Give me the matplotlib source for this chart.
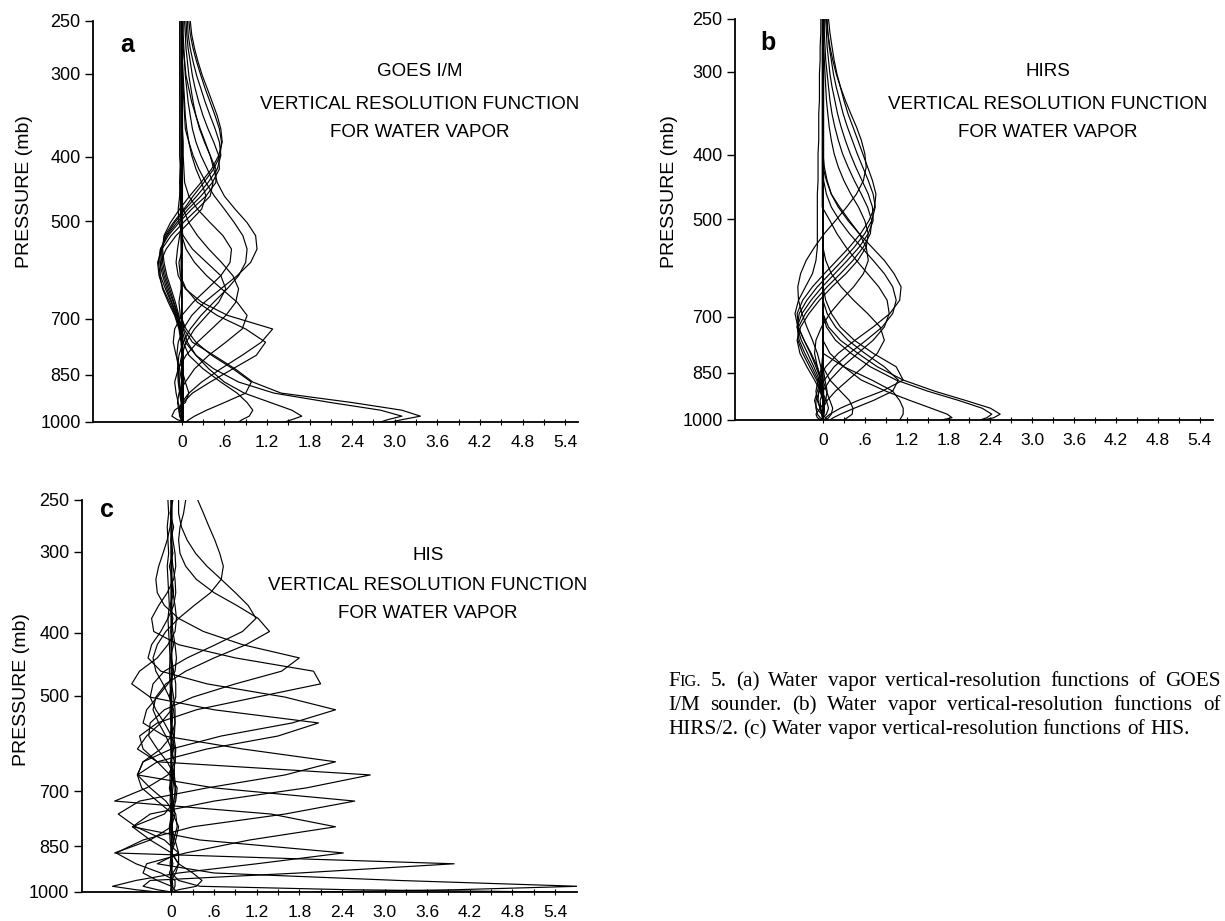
import matplotlib
matplotlib.use("Agg")
import matplotlib.pyplot as plt
from matplotlib.ticker import NullLocator

plt.rcParams['font.family'] = ['Liberation Sans', 'DejaVu Sans']

W, H = 1225, 921

# ---------------- data ----------------
pressure_levels = [250, 262, 275, 288, 302, 316, 331, 347, 363, 380, 398, 417, 437, 458, 479,
                   502, 525, 550, 576, 603, 631, 661, 692, 725, 759, 794, 832, 871, 905, 935,
                   960, 980, 992, 1000]
pressure_ticks = [250, 300, 400, 500, 700, 850, 1000]
x_tick_values = [0, 0.6, 1.2, 1.8, 2.4, 3.0, 3.6, 4.2, 4.8, 5.4]
x_tick_labels = ["0", ".6", "1.2", "1.8", "2.4", "3.0", "3.6", "4.2", "4.8", "5.4"]
x_minor_ticks = [0.3, 0.9, 1.5, 2.1, 2.7, 3.3, 3.9, 4.5, 5.1]

# (a) GOES I/M water vapour resolution functions
goes_curves = [
    [0.10, 0.12, 0.16, 0.21, 0.27, 0.33, 0.40, 0.47, 0.53, 0.56, 0.54, 0.45, 0.31, 0.16, 0.03, -0.12, -0.24, -0.28, -0.27, -0.23, -0.17, -0.11, -0.05, -0.01, 0.01, 0.02, 0.02, 0.02, 0.02, 0.02, 0.02, 0.02, 0.02, 0.02],
    [0.08, 0.09, 0.12, 0.16, 0.21, 0.27, 0.33, 0.40, 0.47, 0.53, 0.55, 0.50, 0.37, 0.21, 0.05, -0.10, -0.22, -0.29, -0.29, -0.25, -0.19, -0.12, -0.06, -0.02, 0.00, 0.01, 0.01, 0.02, 0.02, 0.02, 0.02, 0.02, 0.02, 0.02],
    [0.06, 0.07, 0.09, 0.12, 0.15, 0.19, 0.24, 0.30, 0.37, 0.45, 0.52, 0.53, 0.43, 0.27, 0.09, -0.07, -0.21, -0.30, -0.31, -0.27, -0.21, -0.14, -0.07, -0.02, 0.00, 0.01, 0.01, 0.01, 0.02, 0.02, 0.02, 0.02, 0.01, 0.01],
    [0.04, 0.05, 0.06, 0.08, 0.10, 0.13, 0.16, 0.20, 0.25, 0.32, 0.40, 0.48, 0.48, 0.34, 0.14, -0.04, -0.19, -0.30, -0.33, -0.30, -0.23, -0.15, -0.08, -0.03, 0.00, 0.01, 0.01, 0.01, 0.01, 0.01, 0.01, 0.01, 0.01, 0.01],
    [0.02, 0.02, 0.03, 0.04, 0.05, 0.07, 0.09, 0.12, 0.15, 0.20, 0.27, 0.36, 0.44, 0.40, 0.22, 0.02, -0.15, -0.28, -0.34, -0.32, -0.26, -0.17, -0.09, -0.03, 0.00, 0.01, 0.01, 0.01, 0.01, 0.01, 0.00, 0.00, 0.00, 0.00],
    [0.00, 0.00, 0.01, 0.01, 0.02, 0.03, 0.04, 0.05, 0.07, 0.10, 0.14, 0.20, 0.28, 0.34, 0.28, 0.10, -0.08, -0.22, -0.30, -0.31, -0.27, -0.19, -0.10, -0.04, -0.01, 0.00, 0.00, 0.00, 0.00, 0.00, 0.00, 0.00, 0.00, 0.00],
    [0.12, 0.14, 0.18, 0.23, 0.29, 0.36, 0.43, 0.50, 0.55, 0.57, 0.52, 0.42, 0.27, 0.11, -0.03, -0.16, -0.25, -0.27, -0.25, -0.21, -0.15, -0.09, -0.04, 0.00, 0.01, 0.02, 0.02, 0.02, 0.02, 0.02, 0.02, 0.02, 0.02, 0.02],
    [-0.03, -0.03, -0.03, -0.03, -0.03, -0.03, -0.03, -0.03, -0.03, -0.03, -0.03, -0.02, -0.02, -0.02, -0.02, -0.01, -0.01, 0.00, 0.00, 0.00, 0.00, 0.00, 0.00, 0.00, 0.00, 0.00, 0.00, 0.00, 0.00, 0.00, 0.00, 0.00, 0.00, 0.00],
    [0.00, 0.01, 0.02, 0.04, 0.06, 0.10, 0.14, 0.20, 0.26, 0.33, 0.40, 0.45, 0.50, 0.60, 0.75, 0.92, 1.04, 1.06, 0.97, 0.78, 0.55, 0.32, 0.14, 0.02, -0.05, -0.07, -0.05, -0.03, -0.01, 0.00, 0.00, 0.00, 0.00, 0.00],
    [0.00, 0.00, 0.00, 0.01, 0.01, 0.02, 0.03, 0.04, 0.05, 0.10, 0.16, 0.24, 0.34, 0.46, 0.60, 0.74, 0.86, 0.92, 0.90, 0.80, 0.64, 0.45, 0.27, 0.12, 0.02, -0.04, -0.06, -0.05, -0.03, -0.01, 0.00, 0.00, 0.00, 0.00],
    [0.00, 0.00, 0.00, 0.00, 0.00, 0.00, 0.00, 0.00, 0.00, 0.00, 0.00, -0.02, -0.03, -0.02, 0.02, 0.10, 0.22, 0.38, 0.56, 0.72, 0.80, 0.76, 0.62, 0.42, 0.22, 0.06, -0.05, -0.10, -0.08, -0.05, -0.02, 0.00, 0.00, 0.00],
    [0.01, 0.01, 0.01, 0.01, 0.01, 0.01, 0.01, 0.01, 0.01, 0.02, 0.02, 0.03, 0.04, 0.10, 0.22, 0.40, 0.58, 0.70, 0.68, 0.55, 0.36, 0.16, 0.00, -0.10, -0.12, -0.08, -0.03, 0.00, 0.00, 0.00, 0.00, 0.00, 0.00, 0.00],
    [-0.01, -0.01, -0.01, -0.01, -0.01, -0.01, -0.01, -0.01, -0.01, -0.01, -0.01, -0.02, -0.02, -0.03, -0.05, -0.04, 0.02, 0.15, 0.35, 0.55, 0.62, 0.52, 0.35, 0.18, 0.06, 0.00, -0.04, -0.04, -0.02, 0.00, 0.00, 0.00, 0.00, 0.00],
    [0.00, 0.00, 0.00, 0.00, 0.00, 0.00, 0.00, 0.00, 0.00, 0.00, 0.00, 0.00, 0.00, 0.00, 0.00, 0.00, -0.03, -0.06, -0.08, -0.05, 0.05, 0.28, 0.65, 1.28, 1.12, 0.85, 0.55, 0.28, 0.10, 0.00, -0.04, -0.03, -0.01, 0.00],
    [0.01, 0.01, 0.01, 0.01, 0.01, 0.01, 0.01, 0.01, 0.01, 0.01, 0.01, 0.01, 0.01, 0.01, 0.01, 0.01, 0.01, 0.01, -0.04, -0.02, 0.06, 0.22, 0.50, 0.90, 1.18, 1.05, 0.72, 0.40, 0.15, 0.02, -0.03, -0.02, 0.00, 0.00],
    [0.00, 0.00, 0.00, 0.00, 0.00, 0.00, 0.00, 0.00, 0.00, 0.00, 0.00, 0.00, 0.00, 0.00, 0.00, 0.00, 0.00, 0.06, 0.18, 0.35, 0.56, 0.78, 0.92, 0.85, 0.62, 0.38, 0.18, 0.05, -0.04, -0.06, -0.04, -0.02, 0.00, 0.00],
    [-0.01, -0.01, -0.01, -0.01, -0.01, -0.01, -0.01, -0.01, -0.01, -0.01, -0.01, -0.01, -0.01, -0.01, -0.01, -0.01, -0.01, -0.01, -0.01, -0.01, -0.01, -0.04, -0.02, 0.06, 0.20, 0.42, 0.72, 0.98, 0.90, 0.60, 0.35, 0.18, 0.10, 0.06],
    [0.00, 0.00, 0.00, 0.00, 0.00, 0.00, 0.00, 0.00, 0.00, 0.00, 0.00, 0.00, 0.00, 0.00, 0.00, 0.00, 0.00, 0.00, 0.00, 0.00, 0.00, 0.00, 0.00, 0.03, 0.15, 0.45, 0.75, 1.00, 1.40, 2.40, 3.10, 3.36, 3.10, 2.95],
    [0.00, 0.00, 0.00, 0.00, 0.00, 0.00, 0.00, 0.00, 0.00, 0.00, 0.00, 0.00, 0.00, 0.00, 0.00, 0.00, 0.00, 0.00, 0.00, 0.00, 0.00, 0.00, 0.00, 0.00, 0.05, 0.20, 0.45, 0.80, 1.30, 2.10, 2.80, 3.10, 2.90, 2.80],
    [0.00, 0.00, 0.00, 0.00, 0.00, 0.00, 0.00, 0.00, 0.00, 0.00, 0.00, 0.00, 0.00, 0.00, 0.00, 0.00, 0.00, 0.00, 0.00, 0.00, 0.00, 0.00, 0.00, 0.02, 0.08, 0.20, 0.38, 0.60, 0.88, 1.25, 1.55, 1.69, 1.55, 1.45],
    [0.00, 0.00, 0.00, 0.00, 0.00, 0.00, 0.00, 0.00, 0.00, 0.00, 0.00, 0.00, 0.00, 0.00, 0.00, 0.00, 0.00, 0.00, 0.00, 0.00, 0.00, 0.00, 0.00, 0.00, 0.02, 0.10, 0.30, 0.55, 0.78, 0.92, 1.00, 0.95, 0.85, 0.80],
    [0.00, 0.00, 0.00, 0.00, 0.00, 0.00, 0.00, 0.00, 0.00, 0.00, 0.00, 0.00, 0.00, 0.00, 0.00, 0.00, 0.00, 0.00, 0.00, 0.00, 0.00, 0.00, 0.00, 0.00, 0.00, 0.00, 0.00, 0.05, 0.10, 0.05, -0.10, -0.14, -0.06, 0.05],
]

# (b) HIRS/2 water vapour resolution functions
hirs_curves = [
    [0.08, 0.10, 0.13, 0.16, 0.20, 0.25, 0.30, 0.36, 0.43, 0.50, 0.57, 0.64, 0.71, 0.76, 0.74, 0.66, 0.54, 0.38, 0.20, 0.02, -0.15, -0.29, -0.37, -0.35, -0.27, -0.18, -0.10, -0.03, 0.00, 0.02, 0.02, 0.01, 0.00, 0.00],
    [0.06, 0.07, 0.09, 0.12, 0.15, 0.19, 0.24, 0.29, 0.35, 0.42, 0.49, 0.57, 0.65, 0.72, 0.75, 0.70, 0.60, 0.45, 0.28, 0.10, -0.08, -0.23, -0.34, -0.37, -0.31, -0.22, -0.13, -0.05, -0.01, 0.01, 0.02, 0.01, 0.00, 0.00],
    [0.04, 0.05, 0.06, 0.08, 0.10, 0.13, 0.17, 0.21, 0.26, 0.32, 0.39, 0.47, 0.56, 0.65, 0.71, 0.72, 0.65, 0.52, 0.35, 0.17, -0.01, -0.17, -0.30, -0.37, -0.34, -0.26, -0.16, -0.07, -0.02, 0.01, 0.02, 0.01, 0.00, 0.00],
    [0.02, 0.02, 0.03, 0.04, 0.06, 0.08, 0.10, 0.13, 0.17, 0.22, 0.28, 0.36, 0.45, 0.55, 0.64, 0.70, 0.68, 0.58, 0.43, 0.25, 0.06, -0.11, -0.25, -0.35, -0.36, -0.29, -0.19, -0.09, -0.03, 0.00, 0.01, 0.01, 0.00, 0.00],
    [0.00, 0.01, 0.01, 0.02, 0.03, 0.04, 0.05, 0.07, 0.09, 0.12, 0.16, 0.22, 0.30, 0.40, 0.51, 0.60, 0.65, 0.62, 0.50, 0.33, 0.13, -0.05, -0.20, -0.32, -0.37, -0.33, -0.23, -0.12, -0.04, 0.00, 0.01, 0.01, 0.00, 0.00],
    [-0.03, -0.03, -0.04, -0.04, -0.05, -0.05, -0.05, -0.06, -0.06, -0.06, -0.07, -0.07, -0.07, -0.08, -0.08, -0.08, -0.08, -0.08, -0.10, -0.15, -0.25, -0.35, -0.40, -0.36, -0.27, -0.17, -0.08, -0.02, 0.00, 0.00, 0.00, 0.00, 0.00, 0.00],
    [0.05, 0.07, 0.10, 0.14, 0.19, 0.25, 0.32, 0.40, 0.48, 0.55, 0.60, 0.62, 0.58, 0.48, 0.34, 0.18, 0.02, -0.12, -0.24, -0.32, -0.36, -0.35, -0.30, -0.23, -0.15, -0.08, -0.03, 0.00, 0.01, 0.01, 0.01, 0.00, 0.00, 0.00],
    [0.00, 0.00, 0.00, 0.00, 0.00, 0.00, 0.00, 0.00, 0.00, 0.00, 0.00, 0.02, 0.06, 0.12, 0.22, 0.36, 0.52, 0.70, 0.88, 1.02, 1.12, 1.10, 0.96, 0.72, 0.46, 0.22, 0.04, -0.07, -0.10, -0.08, -0.04, -0.01, 0.00, 0.00],
    [0.01, 0.01, 0.01, 0.01, 0.01, 0.01, 0.01, 0.01, 0.01, 0.01, 0.01, 0.01, 0.01, 0.05, 0.12, 0.24, 0.38, 0.55, 0.72, 0.88, 1.00, 1.05, 1.00, 0.85, 0.62, 0.38, 0.16, 0.02, -0.06, -0.07, -0.04, -0.02, 0.00, 0.00],
    [-0.01, -0.01, -0.01, -0.01, -0.01, -0.01, -0.01, -0.01, -0.01, -0.01, -0.01, -0.01, -0.01, -0.01, -0.01, 0.10, 0.20, 0.33, 0.48, 0.64, 0.80, 0.92, 0.95, 0.88, 0.72, 0.50, 0.28, 0.10, 0.00, -0.04, -0.03, -0.01, 0.00, 0.00],
    [0.00, 0.00, 0.00, 0.00, 0.00, 0.00, 0.00, 0.00, 0.00, 0.00, 0.00, 0.00, 0.05, 0.12, 0.24, 0.38, 0.52, 0.62, 0.65, 0.58, 0.44, 0.26, 0.10, -0.02, -0.10, -0.12, -0.08, -0.03, 0.00, 0.00, 0.00, 0.00, 0.00, 0.00],
    [0.00, 0.00, 0.00, 0.00, 0.00, 0.00, 0.00, 0.00, 0.00, 0.00, 0.00, 0.00, 0.00, 0.00, 0.00, 0.00, 0.00, 0.00, 0.04, 0.12, 0.26, 0.44, 0.64, 0.82, 0.88, 0.78, 0.58, 0.36, 0.18, 0.06, 0.00, -0.02, -0.01, 0.00],
    [0.00, 0.00, 0.00, 0.00, 0.00, 0.00, 0.00, 0.00, 0.00, 0.00, 0.00, 0.00, 0.00, 0.00, 0.00, 0.00, 0.00, 0.00, 0.00, 0.00, 0.00, 0.04, 0.12, 0.25, 0.45, 0.72, 1.05, 1.15, 0.85, 0.50, 0.25, 0.10, 0.04, 0.02],
    [0.00, 0.00, 0.00, 0.00, 0.00, 0.00, 0.00, 0.00, 0.00, 0.00, 0.00, 0.00, 0.00, 0.00, 0.00, 0.00, 0.00, 0.00, 0.00, 0.00, 0.00, 0.00, 0.06, 0.18, 0.36, 0.60, 0.88, 1.08, 1.00, 0.72, 0.45, 0.25, 0.15, 0.10],
    [0.00, 0.00, 0.00, 0.00, 0.00, 0.00, 0.00, 0.00, 0.00, 0.00, 0.00, 0.00, 0.00, 0.00, 0.00, 0.00, 0.00, 0.00, 0.00, 0.00, 0.00, 0.00, 0.00, 0.08, 0.25, 0.50, 0.78, 1.15, 1.60, 2.05, 2.40, 2.54, 2.45, 2.30],
    [0.00, 0.00, 0.00, 0.00, 0.00, 0.00, 0.00, 0.00, 0.00, 0.00, 0.00, 0.00, 0.00, 0.00, 0.00, 0.00, 0.00, 0.00, 0.00, 0.00, 0.00, 0.00, 0.00, 0.05, 0.18, 0.40, 0.68, 1.05, 1.50, 1.95, 2.28, 2.42, 2.35, 2.25],
    [0.00, 0.00, 0.00, 0.00, 0.00, 0.00, 0.00, 0.00, 0.00, 0.00, 0.00, 0.00, 0.00, 0.00, 0.00, 0.00, 0.00, 0.00, 0.00, 0.00, 0.00, 0.00, 0.00, 0.00, 0.00, 0.10, 0.30, 0.55, 0.90, 1.25, 1.55, 1.78, 1.85, 1.70],
    [0.00, 0.00, 0.00, 0.00, 0.00, 0.00, 0.00, 0.00, 0.00, 0.00, 0.00, 0.00, 0.00, 0.00, 0.00, 0.00, 0.00, 0.00, 0.00, 0.00, 0.00, 0.00, 0.00, 0.00, 0.00, 0.00, 0.30, 0.70, 1.00, 1.10, 1.15, 1.15, 1.12, 1.10],
    [0.00, 0.00, 0.00, 0.00, 0.00, 0.00, 0.00, 0.00, 0.00, 0.00, 0.00, 0.00, 0.00, 0.00, 0.00, 0.00, 0.00, 0.00, 0.00, 0.00, 0.00, 0.00, 0.00, 0.00, 0.00, 0.00, 0.00, 0.10, 0.25, 0.38, 0.43, 0.42, 0.35, 0.30],
    [0.00, 0.00, 0.00, 0.00, 0.00, 0.00, 0.00, 0.00, 0.00, 0.00, 0.00, 0.00, 0.00, 0.00, 0.00, 0.00, 0.00, 0.00, 0.00, 0.00, 0.00, 0.00, 0.00, 0.00, 0.00, 0.00, 0.00, 0.00, 0.05, 0.10, 0.14, 0.12, 0.08, 0.05],
    [0.00, 0.00, 0.00, 0.00, 0.00, 0.00, 0.00, 0.00, 0.00, 0.00, 0.00, 0.00, 0.00, 0.00, 0.00, 0.00, 0.00, 0.00, 0.00, 0.00, 0.00, 0.00, 0.00, 0.00, 0.00, 0.00, 0.00, 0.00, -0.05, -0.10, -0.10, -0.08, -0.04, 0.00],
    [0.00, 0.00, 0.00, 0.00, 0.00, 0.00, 0.00, 0.00, 0.00, 0.00, 0.00, 0.00, 0.00, 0.00, 0.00, 0.00, 0.00, 0.00, 0.00, 0.00, 0.00, 0.00, 0.00, 0.00, 0.00, 0.00, 0.00, -0.03, -0.08, -0.12, -0.09, -0.02, 0.04, 0.06],
    [0.00, 0.00, 0.00, 0.00, 0.00, 0.00, 0.00, 0.00, 0.00, 0.00, 0.00, 0.00, 0.00, 0.00, 0.00, 0.00, 0.00, 0.00, 0.00, 0.00, 0.00, 0.00, 0.00, 0.00, 0.00, 0.00, 0.00, 0.03, 0.06, 0.04, -0.04, -0.10, -0.08, -0.03],
    [0.00, 0.00, 0.00, 0.00, 0.00, 0.00, 0.00, 0.00, 0.00, 0.00, 0.00, 0.00, 0.00, 0.00, 0.00, 0.00, 0.00, 0.00, 0.00, 0.00, 0.00, 0.00, 0.00, 0.00, 0.00, 0.00, -0.02, -0.06, -0.02, 0.05, 0.08, 0.05, 0.00, -0.04],
]

# (c) HIS water vapour resolution functions
his_curves = [
    [0.37, 0.45, 0.53, 0.61, 0.68, 0.73, 0.70, 0.55, 0.32, 0.10, -0.08, -0.20, -0.26, -0.22, -0.12, -0.03, 0.03, 0.05, 0.04, 0.02, 0.00, -0.02, -0.02, 0.00, 0.01, 0.01, 0.00, 0.00, 0.00, 0.00, 0.00, 0.00, 0.00, 0.00],
    [0.20, 0.17, 0.12, 0.10, 0.12, 0.20, 0.35, 0.60, 0.92, 1.22, 1.38, 1.05, 0.60, 0.20, -0.08, -0.22, -0.26, -0.18, -0.08, 0.00, 0.04, 0.04, 0.02, 0.00, -0.01, 0.00, 0.00, 0.00, 0.00, 0.00, 0.00, 0.00, 0.00, 0.00],
    [0.10, 0.10, 0.14, 0.22, 0.34, 0.50, 0.70, 0.90, 1.08, 1.19, 1.00, 0.62, 0.22, -0.10, -0.26, -0.30, -0.22, -0.10, 0.00, 0.05, 0.05, 0.02, -0.01, -0.02, 0.00, 0.00, 0.00, 0.00, 0.00, 0.00, 0.00, 0.00, 0.00, 0.00],
    [0.00, 0.00, -0.02, -0.06, -0.12, -0.18, -0.22, -0.20, -0.10, 0.10, 0.45, 1.00, 1.80, 1.55, 0.90, 0.30, -0.10, -0.30, -0.32, -0.20, -0.06, 0.04, 0.06, 0.03, 0.00, -0.01, 0.00, 0.00, 0.00, 0.00, 0.00, 0.00, 0.00, 0.00],
    [0.00, 0.00, 0.00, 0.02, 0.05, 0.06, 0.03, -0.06, -0.18, -0.28, -0.25, 0.10, 0.90, 2.00, 2.10, 1.20, 0.35, -0.20, -0.45, -0.40, -0.20, -0.02, 0.08, 0.06, 0.00, -0.03, -0.02, 0.00, 0.00, 0.00, 0.00, 0.00, 0.00, 0.00],
    [0.00, 0.00, 0.00, 0.00, 0.00, 0.02, 0.05, 0.06, 0.03, -0.05, -0.15, -0.28, -0.33, -0.15, 0.50, 1.60, 2.31, 1.70, 0.70, 0.00, -0.40, -0.48, -0.30, -0.08, 0.06, 0.08, 0.03, 0.00, 0.00, 0.00, 0.00, 0.00, 0.00, 0.00],
    [0.00, 0.00, 0.00, 0.00, 0.00, 0.00, 0.00, 0.02, 0.05, 0.07, 0.05, -0.05, -0.20, -0.45, -0.56, -0.30, 0.60, 2.07, 1.50, 0.50, -0.20, -0.48, -0.42, -0.20, 0.02, 0.10, 0.06, 0.00, -0.02, 0.00, 0.00, 0.00, 0.00, 0.00],
    [0.00, 0.00, 0.00, 0.00, 0.00, 0.00, 0.00, 0.00, 0.00, 0.00, 0.02, 0.05, 0.07, 0.05, -0.05, -0.20, -0.35, -0.40, -0.10, 1.00, 2.31, 1.60, 0.50, -0.45, -0.75, -0.50, -0.10, 0.10, 0.10, 0.02, -0.02, 0.00, 0.00, 0.00],
    [0.00, 0.00, 0.00, 0.00, 0.00, 0.00, 0.00, 0.00, 0.00, 0.00, 0.00, 0.00, 0.00, 0.03, 0.06, 0.06, 0.00, -0.15, -0.35, -0.48, -0.20, 2.80, 1.90, 0.60, -0.30, -0.55, -0.30, 0.00, 0.10, 0.06, 0.00, 0.00, 0.00, 0.00],
    [0.00, 0.00, 0.00, 0.00, 0.00, 0.00, 0.00, 0.00, 0.00, 0.00, 0.00, 0.00, 0.00, 0.00, 0.00, 0.03, 0.05, 0.05, 0.00, -0.15, -0.40, -0.48, 0.60, 2.58, 1.60, 0.30, -0.40, -0.78, -0.50, -0.15, 0.05, 0.05, 0.02, 0.00],
    [0.00, 0.00, 0.00, 0.00, 0.00, 0.00, 0.00, 0.00, 0.00, 0.00, 0.00, 0.00, 0.00, 0.00, 0.00, 0.00, 0.00, 0.00, 0.03, 0.06, 0.05, -0.05, -0.35, -0.80, 1.40, 2.31, 1.10, 0.20, -0.35, -0.40, -0.20, 0.00, 0.05, 0.05],
    [0.00, 0.00, 0.00, 0.00, 0.00, 0.00, 0.00, 0.00, 0.00, 0.00, 0.00, 0.00, 0.00, 0.00, 0.00, 0.00, 0.00, 0.00, 0.00, 0.00, 0.00, 0.02, 0.05, 0.05, -0.10, -0.55, 0.40, 2.42, 1.20, 0.10, -0.50, -0.83, -0.50, -0.20],
    [0.00, 0.00, 0.00, 0.00, 0.00, 0.00, 0.00, 0.00, 0.00, 0.00, 0.00, 0.00, 0.00, 0.00, 0.00, 0.00, 0.00, 0.00, 0.00, 0.00, 0.00, 0.00, 0.00, 0.02, 0.05, 0.00, -0.30, -0.80, 3.98, 1.80, -0.30, -0.40, -0.20, 0.00],
    [0.00, 0.00, 0.00, 0.00, 0.00, 0.00, 0.00, 0.00, 0.00, 0.00, 0.00, 0.00, 0.00, 0.00, 0.00, 0.00, 0.00, 0.00, 0.00, 0.00, 0.00, 0.00, 0.00, 0.00, 0.00, 0.00, 0.05, 0.10, -0.20, 0.60, 3.20, 5.73, 4.00, 2.00],
    [0.00, 0.00, 0.00, 0.00, 0.00, 0.00, 0.00, 0.00, 0.00, 0.00, 0.00, 0.00, 0.00, 0.00, 0.00, 0.00, 0.00, 0.00, 0.00, 0.00, 0.00, 0.00, 0.00, 0.00, 0.00, 0.00, 0.00, 0.00, 0.00, 0.00, 0.10, 0.40, 2.50, 5.40],
    [0.00, 0.00, 0.00, 0.00, 0.00, 0.00, 0.00, 0.00, 0.00, 0.00, 0.00, 0.00, 0.00, 0.00, 0.00, 0.00, 0.00, 0.00, 0.00, 0.00, 0.00, 0.00, 0.00, 0.00, 0.00, 0.00, 0.00, 0.00, 0.10, 0.30, 0.43, 0.35, 0.10, 0.00],
    [0.02, -0.02, 0.03, -0.01, 0.02, -0.03, 0.01, 0.03, -0.02, 0.02, -0.01, 0.03, -0.02, 0.02, 0.00, -0.03, 0.02, 0.01, -0.02, 0.03, -0.01, 0.02, -0.03, 0.01, 0.02, -0.02, 0.03, -0.01, 0.02, -0.03, 0.01, 0.02, -0.01, 0.00],
    [-0.05, -0.04, -0.06, -0.05, -0.04, -0.06, -0.05, -0.04, -0.03, -0.05, -0.04, -0.03, -0.02, -0.03, -0.02, -0.01, -0.02, -0.01, 0.00, -0.01, 0.00, 0.01, 0.00, 0.01, 0.00, 0.01, 0.02, 0.01, 0.00, 0.01, 0.00, 0.00, 0.00, 0.00],
]

panel_letters = ["a", "b", "c"]
panel_titles = [["GOES I/M", "VERTICAL RESOLUTION FUNCTION", "FOR WATER VAPOR"],
                ["HIRS", "VERTICAL RESOLUTION FUNCTION", "FOR WATER VAPOR"],
                ["HIS", "VERTICAL RESOLUTION FUNCTION", "FOR WATER VAPOR"]]
y_axis_label = "PRESSURE (mb)"
caption_lines = [
    "FIG. 5. (a) Water vapor vertical-resolution functions of GOES",
    "I/M sounder. (b) Water vapor vertical-resolution functions of",
    "HIRS/2. (c) Water vapor vertical-resolution functions of HIS.",
]
caption_justified = [True, True, False]

# ---------------- layout (pixels) ----------------
fig = plt.figure(figsize=(W / 100, H / 100), dpi=100)
fig.patch.set_facecolor("white")


def rect(l, r, t, b):
    return [l / W, 1 - b / H, (r - l) / W, (b - t) / H]


def fx(x):
    return x / W


def fy(y):
    return 1 - y / H


panels = [
    dict(curves=goes_curves, box=(93, 578, 21, 422), xlim=(-1.25, 5.58),
         letter=(127, 45), title_x=420, title_y=(72, 104, 132), ylab=(25, 192)),
    dict(curves=hirs_curves, box=(735, 1213, 19, 420), xlim=(-1.26, 5.59),
         letter=(768, 43), title_x=1048, title_y=(72, 104, 132), ylab=(670, 192)),
    dict(curves=his_curves, box=(82, 577, 500, 892), xlim=(-1.26, 5.71),
         letter=(107, 510), title_x=428, title_y=(555, 586, 614), ylab=(22, 690)),
]

for i, pdef in enumerate(panels):
    l, r, t, b = pdef["box"]
    ax = fig.add_axes(rect(l, r, t, b))
    for c in pdef["curves"]:
        ax.plot(c, pressure_levels, color="black", lw=0.85, solid_joinstyle="round")
    ax.set_yscale("log")
    ax.set_ylim(1000, 250)
    ax.set_xlim(*pdef["xlim"])
    ax.set_yticks(pressure_ticks)
    ax.set_yticklabels([str(p) for p in pressure_ticks])
    ax.yaxis.set_minor_locator(NullLocator())
    ax.set_xticks(x_tick_values)
    ax.set_xticklabels(x_tick_labels)
    ax.set_xticks(x_minor_ticks, minor=True)
    for s in ("top", "right"):
        ax.spines[s].set_visible(False)
    for s in ("left", "bottom"):
        ax.spines[s].set_linewidth(1.3)
    ax.tick_params(axis="y", direction="out", length=6, width=1.0, labelsize=13, pad=3)
    ax.tick_params(axis="x", which="both", direction="inout", length=4, width=0.8,
                   labelsize=12.5, pad=7)
    ax.patch.set_alpha(0)

    fig.text(fx(pdef["letter"][0]), fy(pdef["letter"][1]), panel_letters[i],
             fontsize=18, fontweight="bold", ha="center", va="center")
    for line, yy in zip(panel_titles[i], pdef["title_y"]):
        fig.text(fx(pdef["title_x"]), fy(yy), line, fontsize=13.5, ha="center", va="center")
    fig.text(fx(pdef["ylab"][0]), fy(pdef["ylab"][1]), y_axis_label, fontsize=14,
             rotation=90, ha="center", va="center")

# ---------------- caption (justified like the journal column) ----------------
serif = ["Liberation Serif", "DejaVu Serif"]
cap_size = 15.3
cap_x0, cap_x1 = 668, 1221
renderer = fig.canvas.get_renderer()


def make_word(word):
    """Return list of (text artist, width px); 'FIG.' is set in small caps."""
    if word == "FIG.":
        parts = [("F", cap_size), ("IG.", cap_size * 0.78)]
    else:
        parts = [(word, cap_size)]
    out = []
    for s, sz in parts:
        t = fig.text(0, 0, s, fontsize=sz, family=serif, ha="left", va="baseline")
        out.append((t, t.get_window_extent(renderer).width))
    return out


_t1 = fig.text(0, 0, "a a", fontsize=cap_size, family=serif)
_t2 = fig.text(0, 0, "a", fontsize=cap_size, family=serif)
space_w = _t1.get_window_extent(renderer).width - 2 * _t2.get_window_extent(renderer).width
_t1.remove()
_t2.remove()

for line, yb, just in zip(caption_lines, (686, 710, 734), caption_justified):
    words = [make_word(w) for w in line.split(" ")]
    widths = [sum(wd for _, wd in w) for w in words]
    if just:
        gap = (cap_x1 - cap_x0 - sum(widths)) / (len(words) - 1)
    else:
        gap = space_w
    x = cap_x0
    for parts, wtot in zip(words, widths):
        xx = x
        for t, wd in parts:
            t.set_position((fx(xx), fy(yb)))
            xx += wd
        x += wtot + gap

fig.savefig("out.png", dpi=100, facecolor="white")
